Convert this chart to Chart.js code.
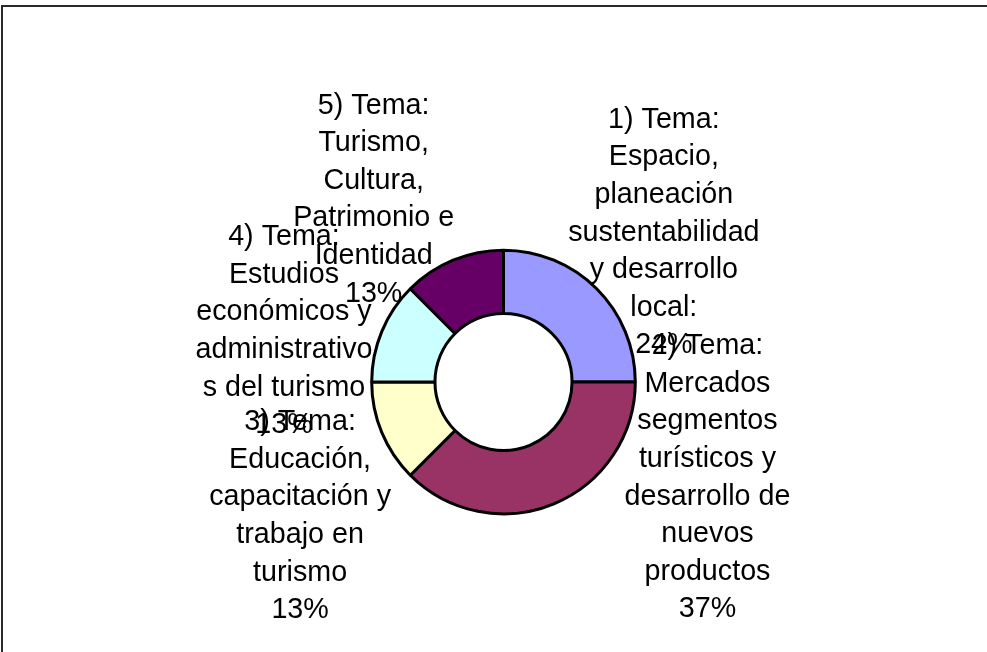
<!DOCTYPE html>
<html>
<head>
<meta charset="utf-8">
<script src="https://cdn.jsdelivr.net/npm/chart.js@4/dist/chart.umd.min.js"></script>
<style>
  html, body { margin: 0; padding: 0; background: #fff; overflow: hidden; }
  #wrap { position: relative; width: 987px; height: 652px; }
  #frame {
    position: absolute; left: 1px; top: 5px; right: -10px; bottom: -10px;
    border-top: 2px solid #2a2a2a; border-left: 2px solid #2a2a2a;
  }
  canvas { position: absolute; left: 0; top: 0; }
</style>
</head>
<body>
<div id="wrap">
  <div id="frame"></div>
  <canvas id="chart" width="987" height="652"></canvas>
</div>
<script>
// category names, already split into lines the way the labels wrap
const categories = [
    ['1) Tema:', 'Espacio,', 'planeación', 'sustentabilidad', 'y desarrollo', 'local:'],
    ['2) Tema:', 'Mercados', 'segmentos', 'turísticos y', 'desarrollo de', 'nuevos', 'productos'],
    ['3) Tema:', 'Educación,', 'capacitación y', 'trabajo en', 'turismo'],
    ['4) Tema:', 'Estudios', 'económicos y', 'administrativo', 's del turismo'],
    ['5) Tema:', 'Turismo,', 'Cultura,', 'Patrimonio e', 'Identidad']
];
// slice sizes as drawn
const shares = [25, 37.5, 12.5, 12.5, 12.5];
// percentages as printed on the labels
const pctLabels = ['24%', '37%', '13%', '13%', '13%'];

const sliceColors = ['#9999FF', '#993366', '#FFFFCC', '#CCFFFF', '#660066'];

// where each label block sits, relative to the doughnut center, in outer radii
const labelOffsets = [
    [1.203, -1.120],
    [1.530, 0.720],
    [-1.526, 1.007],
    [-1.647, -0.381],
    [-0.974, -1.368]
];

const labelFont = '28.7px "Liberation Sans", Arial, sans-serif';
const lineHeight = 37.6;

const outsideLabels = {
    id: 'outsideLabels',
    afterDatasetsDraw(chart) {
        const ctx = chart.ctx;
        const meta = chart.getDatasetMeta(0);
        ctx.save();
        ctx.font = labelFont;
        ctx.fillStyle = '#000';
        ctx.textAlign = 'center';
        ctx.textBaseline = 'middle';
        meta.data.forEach((arc, i) => {
            const r = arc.outerRadius + arc.options.borderWidth / 2;
            const cx = arc.x + labelOffsets[i][0] * r;
            const cy = arc.y + labelOffsets[i][1] * r;
            const lines = categories[i].concat([pctLabels[i]]);
            const top = cy - (lines.length - 1) * lineHeight / 2;
            lines.forEach((line, j) => {
                ctx.fillText(line, cx, top + j * lineHeight);
            });
        });
        ctx.restore();
    }
};

var doughnut = document.getElementById('chart').getContext('2d');
var doughnutChart = new Chart(doughnut, {
    type: 'doughnut',
    data: {
        labels: categories,
        datasets: [{
            data: shares,
            backgroundColor: sliceColors,
            borderColor: '#000',
            borderWidth: 3
        }]
    },
    options: {
        responsive: false,
        animation: false,
        radius: 131.8,
        cutout: '52%',
        layout: {
            padding: { left: 20, right: 0, top: 112, bottom: 0 }
        },
        plugins: {
            legend: { display: false },
            tooltip: { enabled: false }
        }
    },
    plugins: [outsideLabels]
});
</script>
</body>
</html>
